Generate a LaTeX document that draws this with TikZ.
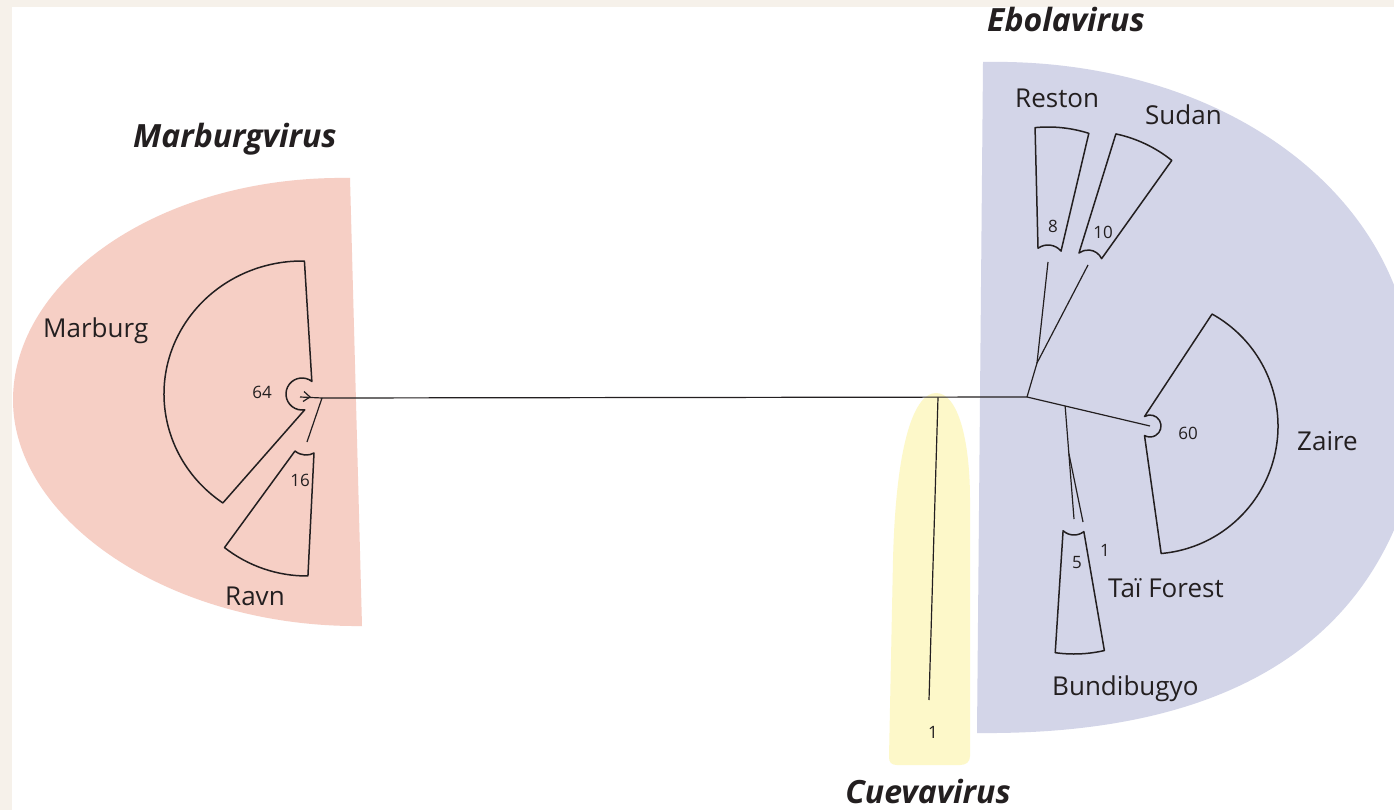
\documentclass[tikz,border=0pt]{standalone}
\usepackage{fontspec}
\setmainfont{Open Sans}
\usetikzlibrary{calc}
\definecolor{framecol}{HTML}{F6F1EA}
\definecolor{pinkreg}{HTML}{F6CFC5}
\definecolor{bluereg}{HTML}{D3D5E8}
\definecolor{yelreg}{HTML}{FDF8C9}
\definecolor{ink}{HTML}{231F20}
\begin{document}
\begin{tikzpicture}[x=1pt,y=-1pt,
  tree/.style={draw=ink, line width=1.2pt},
  sector/.style={draw=ink, line width=1.5pt, line join=round},
  lab/.style={font=\fontsize{26}{30}\selectfont, text=ink, inner sep=0pt, anchor=base west},
  num/.style={font=\fontsize{17}{20}\selectfont, text=ink, inner sep=0pt},
  grouptitle/.style={font=\fontsize{32}{36}\selectfont\bfseries\itshape, text=ink, inner sep=0pt, anchor=base west}]
\useasboundingbox (0,0) rectangle (1394,810);
\fill[framecol] (0,0) rectangle (1394,810);
\fill[white] (12,7) rectangle (1394,810);
% group regions
\fill[pinkreg] (350,178) .. controls (160,175) and (13,280) .. (13,400)
   .. controls (13,520) and (170,628) .. (362,626) -- cycle;
\fill[bluereg] (983,62) .. controls (1180,58) and (1340,150) .. (1394,285)
   -- (1394,530) .. controls (1330,675) and (1180,735) .. (977,733) -- cycle;
\fill[yelreg] (889,757) -- (893,560) .. controls (896,440) and (915,393) .. (936,393)
   .. controls (958,393) and (970,440) .. (970,500) -- (970,756)
   .. controls (970,762) and (966,765) .. (960,765) -- (897,765)
   .. controls (891,765) and (889,762) .. (889,757) -- cycle;
% coordinates
\coordinate (Mroot) at (322,398);
\coordinate (Mn) at (302,394);
\coordinate (Rn) at (307,442);
\coordinate (Eroot) at (1027,397);
\coordinate (Cj) at (938,397.3);
\coordinate (Ct) at (929,700);
\coordinate (Eb1) at (1037,363);
\coordinate (Rc) at (1048,262);
\coordinate (Sc) at (1088,265);
\coordinate (Zc) at (1150,426);
\coordinate (Bc) at (1074,519);
\coordinate (Tt) at (1083,522);
\coordinate (Eb2) at ($(Eroot)!0.31!(Zc)$);
\coordinate (Eb3) at ($(Eb2)!0.42!(Bc)$);
% sectors
\draw[sector] ($(Mn)+(271:138 and 133)$) -- ($(Mn)+(-52:16)$)
   arc[start angle=-52,end angle=-280,radius=16]
   -- ($(Mn)+(125:138 and 133)$)
   arc[start angle=125,end angle=271,x radius=138,y radius=133] -- cycle;
\draw[sector] (295,451) .. controls (301,456) and (309,456) .. (314,453)
   -- ($(Rn)+(89.6:134)$) arc[start angle=89.6,end angle=128,radius=134] -- cycle;
\draw[sector] ($(Zc)+(-61:128)$) -- ($(Zc)+(-120:11)$)
   arc[start angle=-120,end angle=120,radius=11]
   -- ($(Zc)+(85:128)$) arc[start angle=85,end angle=-61,radius=128] -- cycle;
\draw[sector] ($(Rc)+(-126:17)$) -- ($(Rc)+(-95.5:135)$)
   arc[start angle=-95.5,end angle=-72.4,radius=135]
   -- ($(Rc)+(-40:17)$) arc[start angle=-40,end angle=-126,radius=17] -- cycle;
\draw[sector] ($(Sc)+(-127:15)$) -- ($(Sc)+(-78:134)$)
   arc[start angle=-78,end angle=-51.3,radius=134]
   -- ($(Sc)+(-25:15)$) arc[start angle=-25,end angle=-127,radius=15] -- cycle;
\draw[sector] ($(Bc)+(133:16)$) arc[start angle=133,end angle=52,radius=16]
   -- ($(Bc)+(77:135)$) arc[start angle=77,end angle=98,radius=135] -- cycle;
% tree
\draw[tree] (Mroot) -- (Eroot);
\draw[tree] (Mroot) -- (300,397);
\draw[tree] (304,391.5) -- (310,397) -- (303,401.5);
\draw[tree] (Mroot) -- (Rn);
\draw[tree] (Cj) -- (Ct);
\draw[tree] (Eroot) -- (Eb1);
\draw[tree] (Eb1) -- (Rc);
\draw[tree] (Eb1) -- (Sc);
\draw[tree] (Eroot) -- (Zc);
\draw[tree] (Eb2) -- (Bc);
\draw[tree] (Eb3) -- (Tt);
% titles
\node[grouptitle] (tM) at (133,148) {Marburgvirus};
\node[grouptitle] (tE) at (987,32) {Ebolavirus};
\node[grouptitle, anchor=base] (tC) at (928,803) {Cuevavirus};
% labels
\node[lab] (lMar) at (43,337) {Marburg};
\node[lab] (lRav) at (225,605) {Ravn};
\node[lab] (lRes) at (1015,108) {Reston};
\node[lab] (lSud) at (1145,125) {Sudan};
\node[lab] (lZai) at (1297,450) {Zaire};
\node[lab] (lTai) at (1108,597) {Taï Forest};
\node[lab] (lBun) at (1052,695) {Bundibugyo};
% counts
\node[num] (n64) at (262,392) {64};
\node[num] (n16) at (300,480) {16};
\node[num] (n8) at (1053,226) {8};
\node[num] (n10) at (1103,232) {10};
\node[num] (n60) at (1188,433) {60};
\node[num] (n5) at (1077,563) {5};
\node[num] (n1t) at (1105,550) {1};
\node[num] (n1c) at (933,732) {1};
\end{tikzpicture}
\end{document}
